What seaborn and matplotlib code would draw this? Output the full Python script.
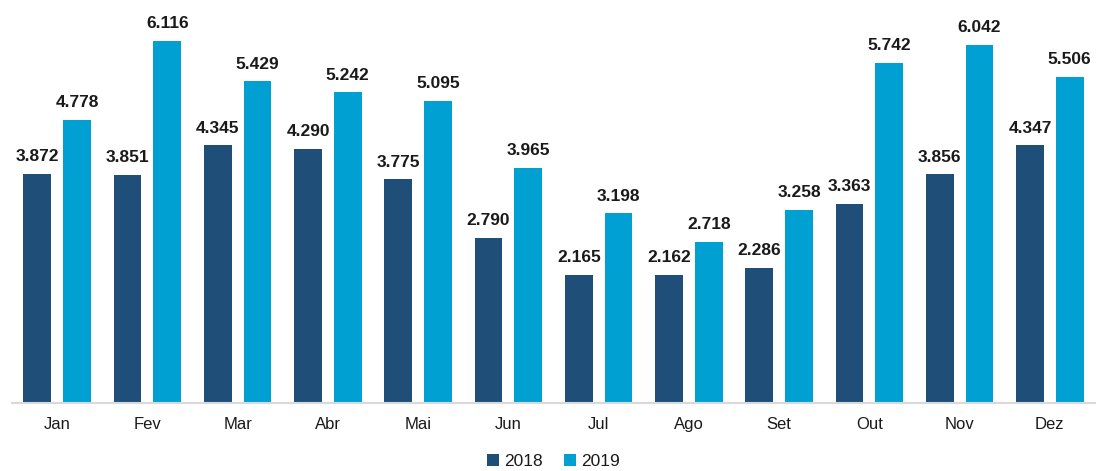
import matplotlib
matplotlib.use("Agg")
import matplotlib.pyplot as plt
import seaborn as sns
import pandas as pd

months = ["Jan", "Fev", "Mar", "Abr", "Mai", "Jun", "Jul", "Ago", "Set", "Out", "Nov", "Dez"]
v2018 = [3.872, 3.851, 4.345, 4.290, 3.775, 2.790, 2.165, 2.162, 2.286, 3.363, 3.856, 4.347]
v2019 = [4.778, 6.116, 5.429, 5.242, 5.095, 3.965, 3.198, 2.718, 3.258, 5.742, 6.042, 5.506]
series = ["2018", "2019"]
colors = ["#1F4E79", "#00A0D2"]

df = pd.DataFrame({
    "month": months * 2,
    "value": v2018 + v2019,
    "year": [series[0]] * len(months) + [series[1]] * len(months),
})

sns.set_theme(style="white")
plt.rcParams["font.family"] = ["Liberation Sans", "DejaVu Sans"]

fig = plt.figure(figsize=(11, 4.71), dpi=100)
ax = fig.add_axes([12 / 1100, 68 / 471, (1095 - 12) / 1100, 403 / 471])

sns.barplot(data=df, x="month", y="value", hue="year", order=months,
            hue_order=series, palette=colors, width=0.88, gap=0.3,
            saturation=1, ax=ax, errorbar=None, linewidth=0)

for cont in ax.containers:
    ax.bar_label(cont, labels=[f"{b.get_height():.3f}" for b in cont],
                 padding=7, fontsize=12.5, fontweight="bold", color="#1a1a1a")

ax.set_xlim(-0.5, len(months) - 0.5)
ax.set_ylim(0, 6.8)
ax.set_xlabel("")
ax.set_ylabel("")
ax.set_yticks([])
for s in ["top", "right", "left"]:
    ax.spines[s].set_visible(False)
ax.spines["bottom"].set_color("#D9D9D9")
ax.spines["bottom"].set_linewidth(1.5)
ax.tick_params(axis="x", length=0, pad=10, labelsize=12, labelcolor="#1a1a1a")

leg = ax.legend(loc="upper center", bbox_to_anchor=(0.5, -0.098), ncol=2,
                frameon=False, fontsize=12.5, handlelength=0.7, handleheight=0.7,
                handletextpad=0.3, columnspacing=1.2, borderpad=0.15)
for t in leg.get_texts():
    t.set_color("#1a1a1a")

fig.savefig("out.png", dpi=100)
